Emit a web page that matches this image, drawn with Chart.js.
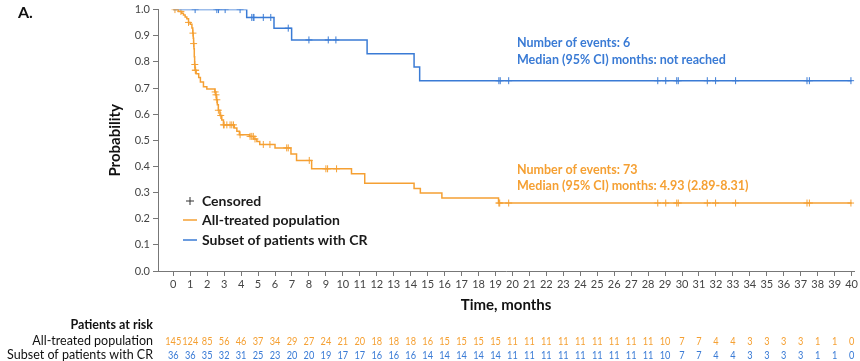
<!DOCTYPE html>
<html>
<head>
<meta charset="utf-8">
<script src="https://cdn.jsdelivr.net/npm/chart.js@4.4.0/dist/chart.umd.min.js"></script>
<style>
  html, body { margin: 0; padding: 0; background: #fff; }
</style>
</head>
<body>
<canvas id="km" width="860" height="361"></canvas>
<script>
// step times (months) and survival after each step
const orangeTimes = [0, 0.3, 0.5, 0.6, 0.7, 0.8, 0.9, 1.0, 1.1, 1.15, 1.18, 1.2, 1.22, 1.24, 1.26, 1.28, 1.35, 1.5, 1.6, 1.78, 1.98, 2.45, 2.5, 2.55, 2.6, 2.66, 2.75, 2.86, 2.96, 3.6, 3.75, 3.9, 4.5, 4.75, 4.93, 5.1, 6.0, 6.94, 7.27, 8.16, 10.51, 11.29, 14.2, 14.57, 15.84, 19.18, 40];
const orangeSurv  = [1.0, 0.993, 0.986, 0.979, 0.972, 0.965, 0.951, 0.944, 0.930, 0.910, 0.890, 0.870, 0.850, 0.820, 0.790, 0.768, 0.755, 0.740, 0.723, 0.705, 0.696, 0.685, 0.674, 0.655, 0.636, 0.615, 0.595, 0.578, 0.559, 0.547, 0.535, 0.521, 0.515, 0.505, 0.495, 0.484, 0.471, 0.448, 0.423, 0.391, 0.372, 0.336, 0.316, 0.298, 0.279, 0.26, 0.26];
const blueTimes = [0, 4.33, 5.94, 6.98, 11.43, 14.2, 14.53, 40];
const blueSurv  = [1.0, 0.97, 0.929, 0.884, 0.831, 0.78, 0.728, 0.728];

// censored observations (months)
const orangeCensor = [0.1, 0.45, 0.9, 1.16, 1.2, 1.27, 1.3, 1.32, 2.47, 2.52, 2.57, 2.66, 2.8, 2.96, 3.0, 3.16, 3.35, 3.45, 3.55, 3.94, 4.53, 4.63, 4.72, 4.82, 5.31, 5.7, 6.69, 6.78, 8.02, 9.0, 9.1, 9.63, 19.2, 19.25, 19.78, 28.57, 29.04, 29.69, 29.78, 31.49, 31.98, 33.16, 37.37, 37.51, 39.96];
const blueCensor = [1.29, 2.57, 2.67, 3.06, 3.94, 4.63, 4.72, 4.76, 5.31, 5.75, 6.78, 8.0, 9.14, 9.59, 19.2, 19.28, 19.78, 28.57, 29.04, 29.69, 29.78, 31.49, 31.98, 33.16, 37.37, 37.51, 39.96];

// patients at risk at each month 0..40
const xTicks = Array.from({length: 41}, (_, i) => i);
const riskOrange = [145, 124, 85, 56, 46, 37, 34, 29, 27, 24, 21, 20, 18, 18, 18, 16, 15, 15, 15, 15, 11, 11, 11, 11, 11, 11, 11, 11, 11, 10, 7, 7, 4, 4, 3, 3, 3, 3, 1, 1, 0];
const riskBlue   = [36, 36, 35, 32, 31, 25, 23, 20, 20, 19, 17, 17, 16, 16, 16, 14, 14, 14, 14, 14, 11, 11, 11, 11, 11, 11, 11, 11, 11, 10, 7, 7, 4, 4, 3, 3, 3, 3, 1, 1, 0];
const yTicks = [0, 0.1, 0.2, 0.3, 0.4, 0.5, 0.6, 0.7, 0.8, 0.9, 1.0];

const ORANGE = '#F5A033';
const BLUE = '#3A7BD5';
const FONT = 'Lato, "Open Sans", sans-serif';

function survAt(times, surv, t) {
    let s = surv[0];
    for (let i = 0; i < times.length; i++) {
        if (times[i] <= t) s = surv[i];
    }
    return s;
}

const toPts = (ts, ss) => ts.map((t, i) => ({x: t, y: ss[i]}));
const censorPts = (cs, ts, ss) => cs.map(t => ({x: t, y: survAt(ts, ss, t)}));

// narrow number text (like the condensed font in the original)
function narrowText(ctx, txt, x, y) {
    ctx.save();
    ctx.translate(x, y);
    ctx.scale(0.8, 1);
    ctx.fillText(txt, 0, 0);
    ctx.restore();
}

// text, legend and risk table
const extras = {
    id: 'extras',
    afterDraw(chart) {
        const ctx = chart.ctx;
        const xs = chart.scales.x;
        const area = chart.chartArea;
        ctx.save();
        ctx.textBaseline = 'middle';

        ctx.fillStyle = '#111';
        ctx.font = 'bold 16px ' + FONT;
        ctx.textAlign = 'left';
        ctx.fillText('A.', 18, 13);

        // y title
        ctx.save();
        ctx.translate(115, (area.top + area.bottom) / 2);
        ctx.rotate(-Math.PI / 2);
        ctx.textAlign = 'center';
        ctx.font = 'bold 15px ' + FONT;
        ctx.fillText('Probability', 0, 0);
        ctx.restore();

        // x title
        ctx.textAlign = 'center';
        ctx.font = 'bold 15px ' + FONT;
        ctx.fillText('Time, months', (area.left + area.right) / 2, 305);

        // legend
        ctx.textAlign = 'left';
        ctx.font = 'bold 14px ' + FONT;
        ctx.fillStyle = '#1a1a1a';
        ctx.fillText('Censored', 202, 201);
        ctx.fillText('All-treated population', 202, 220);
        ctx.fillText('Subset of patients with CR', 202, 240);
        ctx.strokeStyle = '#333';
        ctx.lineWidth = 1;
        ctx.beginPath();
        ctx.moveTo(186, 201); ctx.lineTo(194, 201);
        ctx.moveTo(190, 197); ctx.lineTo(190, 205);
        ctx.stroke();
        ctx.lineWidth = 1.5;
        ctx.strokeStyle = ORANGE;
        ctx.beginPath(); ctx.moveTo(183, 220); ctx.lineTo(197, 220); ctx.stroke();
        ctx.strokeStyle = BLUE;
        ctx.beginPath(); ctx.moveTo(183, 240); ctx.lineTo(197, 240); ctx.stroke();

        // annotations
        ctx.font = 'bold 12.5px ' + FONT;
        ctx.fillStyle = BLUE;
        ctx.fillText('Number of events: 6', 517, 43);
        ctx.fillText('Median (95% CI) months: not reached', 517, 60);
        ctx.fillStyle = ORANGE;
        ctx.fillText('Number of events: 73', 517, 170);
        ctx.fillText('Median (95% CI) months: 4.93 (2.89-8.31)', 517, 186);

        // patients at risk
        ctx.textAlign = 'right';
        ctx.fillStyle = '#111';
        ctx.font = 'bold 12.5px ' + FONT;
        ctx.fillText('Patients at risk', 153, 325);
        ctx.font = '12.5px ' + FONT;
        ctx.fillText('All-treated population', 153, 341);
        ctx.fillText('Subset of patients with CR', 153, 355);
        ctx.textAlign = 'center';
        ctx.font = '11.5px ' + FONT;
        xTicks.forEach((t, i) => {
            const px = xs.getPixelForValue(t);
            ctx.fillStyle = ORANGE;
            narrowText(ctx, String(riskOrange[i]), px, 341);
            ctx.fillStyle = BLUE;
            narrowText(ctx, String(riskBlue[i]), px, 355);
        });
        ctx.restore();
    }
};

new Chart(document.getElementById('km'), {
    type: 'line',
    data: {
        datasets: [
            {
                data: toPts(orangeTimes, orangeSurv),
                borderColor: ORANGE,
                borderWidth: 1.5,
                stepped: 'before',
                pointRadius: 0,
                fill: false
            },
            {
                data: toPts(blueTimes, blueSurv),
                borderColor: BLUE,
                borderWidth: 1.5,
                stepped: 'before',
                pointRadius: 0,
                fill: false
            },
            {
                data: censorPts(orangeCensor, orangeTimes, orangeSurv),
                showLine: false,
                pointStyle: 'cross',
                pointRadius: 3.5,
                pointBorderWidth: 1,
                pointBorderColor: ORANGE
            },
            {
                data: censorPts(blueCensor, blueTimes, blueSurv),
                showLine: false,
                pointStyle: 'cross',
                pointRadius: 3.5,
                pointBorderWidth: 1,
                pointBorderColor: BLUE
            }
        ]
    },
    options: {
        responsive: false,
        animation: false,
        layout: { padding: { left: 0, right: 2, top: 7, bottom: 0 } },
        plugins: { legend: { display: false }, tooltip: { enabled: false } },
        scales: {
            x: {
                type: 'linear',
                min: -0.9,
                max: 40.15,
                afterBuildTicks: s => { s.ticks = xTicks.map(v => ({value: v})); },
                afterFit: s => { s.height = 90; },
                grid: { drawOnChartArea: false, drawTicks: true, tickLength: 5, color: '#777' },
                border: { color: '#777' },
                ticks: { color: '#444', font: { family: FONT, size: 11 }, padding: 2, maxRotation: 0, autoSkip: false }
            },
            y: {
                min: 0,
                max: 1,
                afterBuildTicks: s => { s.ticks = yTicks.map(v => ({value: v})); },
                afterFit: s => { s.width = 158; },
                grid: { drawOnChartArea: false, drawTicks: true, tickLength: 5, color: '#777' },
                border: { color: '#777' },
                ticks: { color: '#444', font: { family: FONT, size: 11 }, padding: 3, callback: v => v.toFixed(1) }
            }
        }
    },
    plugins: [extras]
});
</script>
</body>
</html>
